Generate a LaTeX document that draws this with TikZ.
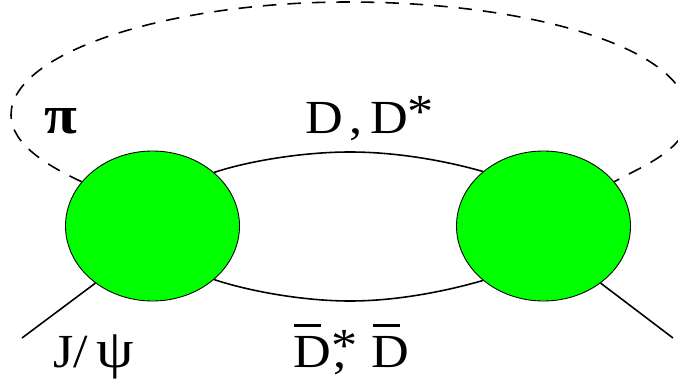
\documentclass[tikz,border=0pt]{standalone}
\usepackage{fontspec}
\setmainfont[FakeStretch=1.1]{Liberation Serif}
\usetikzlibrary{shapes.geometric}
\definecolor{blobgreen}{RGB}{0,255,0}
\newcommand{\barD}{\rlap{\hspace{0.4pt}\rule[23pt]{15.6pt}{1.7pt}}D}
\newcommand{\starD}{D\raisebox{3pt}{*}}
\tikzset{
    blob/.style={draw, ellipse, fill=blobgreen, line width=0.5pt, inner sep=0pt,
        minimum width=3.48cm, minimum height=3cm},
    meson/.style={line width=0.9pt},
    pion/.style={line width=0.9pt, dash pattern=on 0.27cm off 0.22cm},
    lbl/.style={anchor=base west, inner sep=0pt, font=\fontsize{27}{30}\selectfont}
}
\begin{document}
\begin{tikzpicture}

    \clip (0,0) rectangle (13.56,7.64);

    % Vertices
    \node[blob] (vertexL) at (3.05,3.12) {};
    \node[blob] (vertexR) at (10.87,3.12) {};

    % Free ends
    \coordinate (inL) at (0.44,0.88);
    \coordinate (outR) at (13.46,0.88);

    % Pion loop
    \draw[pion] (vertexL.148) .. controls (1.0,4.3) and (0.22,4.74) .. (0.22,5.34)
        .. controls (0.22,6.6) and (3.4,7.6) .. (6.96,7.6)
        .. controls (10.6,7.6) and (13.76,6.68) .. (13.76,5.34)
        .. controls (13.76,4.64) and (12.8,4.3) .. (vertexR.32);

    % Charmed mesons
    \draw[meson] (vertexL.41.7) .. controls (4.9,4.4) and (6.0,4.6) .. (7.0,4.6)
        .. controls (8.0,4.6) and (9.0,4.4) .. (vertexR.138.3);
    \draw[meson] (vertexL.-41.7) .. controls (4.9,1.84) and (6.0,1.62) .. (7.0,1.62)
        .. controls (8.0,1.62) and (9.0,1.84) .. (vertexR.-138.3);

    % External legs
    \draw[meson] (inL) -- (vertexL.225.8);
    \draw[meson] (vertexR.-45.8) -- (outR);

    % Labels
    \node[lbl] (pilabel) at (0.88,4.98) {\fontsize{31}{30}\selectfont\textbf{π}};
    \node[lbl] (toplabel) at (6.1,4.98) {D\hspace{3.5pt},\hspace{4.5pt}\starD};
    \node[lbl] (botlabel) at (5.86,0.3) {\barD\raisebox{3pt}{*}\hspace{-13.5pt},\hspace{14.5pt}\barD};
    \node[lbl] (jpsilabel) at (1.06,0.3) {J/\hspace{5pt}{\fontsize{31}{30}\selectfont ψ}};

\end{tikzpicture}
\end{document}
